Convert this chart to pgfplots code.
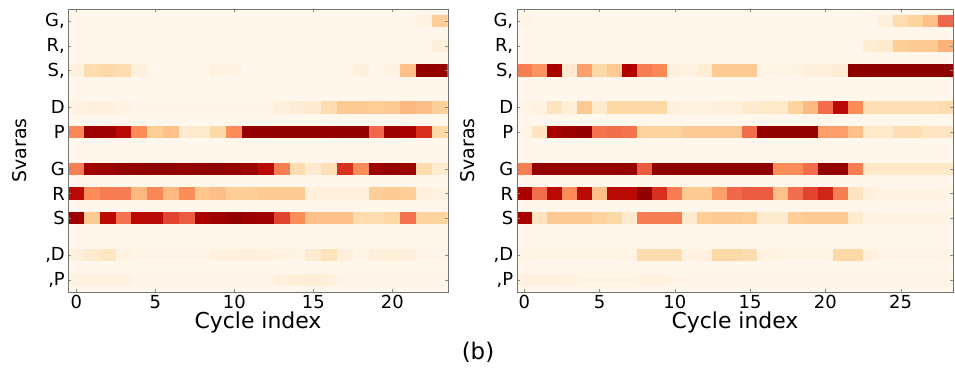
\documentclass[border=0pt]{standalone}
\usepackage{pgfplots}
\usepackage{pgfplotstable}
\pgfplotsset{compat=1.18}
\usepackage{fontspec}
\setmainfont{DejaVu Sans}
\definecolor{bg}{RGB}{255,247,236}
\pgfplotsset{colormap={OrRd}{rgb255=(255,247,236) rgb255=(254,232,200) rgb255=(253,212,158) rgb255=(253,187,132) rgb255=(252,141,89) rgb255=(239,101,72) rgb255=(215,48,31) rgb255=(179,0,0) rgb255=(127,0,0)}}
\pgfdeclareplotmark{cellL}{\pgfpathrectangle{\pgfpoint{-8.0bp}{-6.15bp}}{\pgfpoint{16.0bp}{12.3bp}}\pgfusepathqfill}
\pgfdeclareplotmark{cellR}{\pgfpathrectangle{\pgfpoint{-7.65bp}{-6.15bp}}{\pgfpoint{15.3bp}{12.3bp}}\pgfusepathqfill}

\pgfplotstableread{
x  GG   RR   SS   D    P    G    R    S    lD   lP
0  0    0    0.05 0.04 0.52 0.55 0.85 0.92 0.06 0.04
1  0    0    0.20 0.05 0.93 0.92 0.50 0.30 0.10 0.04
2  0    0    0.22 0.05 0.92 0.93 0.55 0.85 0.14 0.04
3  0    0    0.20 0.03 0.85 0.95 0.55 0.58 0.04 0.04
4  0    0    0.05 0.01 0.50 0.96 0.38 0.85 0.02 0.02
5  0    0    0    0.01 0.28 0.96 0.52 0.85 0.02 0.02
6  0    0    0    0.01 0.35 0.96 0.38 0.70 0.02 0.02
7  0    0    0    0.01 0.10 0.95 0.50 0.65 0.02 0.02
8  0    0    0    0.01 0.10 0.96 0.32 0.90 0.02 0.02
9  0    0    0.04 0.01 0.22 0.96 0.36 0.92 0.05 0.02
10 0    0    0.03 0.01 0.50 0.95 0.28 0.96 0.05 0.02
11 0    0    0    0.01 0.95 0.93 0.28 0.93 0.06 0.02
12 0    0    0    0.01 0.95 0.85 0.30 0.92 0.05 0.02
13 0    0    0    0.06 0.96 0.55 0.30 0.70 0.04 0.05
14 0    0    0    0.08 0.96 0.20 0.30 0.50 0.03 0.07
15 0    0    0    0.10 0.96 0.10 0.06 0.35 0.10 0.08
16 0    0    0    0.20 0.95 0.18 0.05 0.35 0.16 0.06
17 0    0    0    0.30 0.95 0.75 0.05 0.35 0.06 0.02
18 0    0    0.05 0.30 0.95 0.50 0.06 0.20 0.02 0.02
19 0    0    0    0.28 0.62 0.93 0.28 0.20 0.06 0.02
20 0    0    0.03 0.30 0.93 0.95 0.30 0.22 0.07 0.02
21 0    0    0.35 0.38 0.90 0.93 0.28 0.58 0.06 0.02
22 0.03 0    0.95 0.36 0.75 0.20 0.05 0.25 0.02 0.02
23 0.28 0.07 0.95 0.27 0.22 0.10 0.04 0.25 0.02 0.02
}\leftdata

\pgfplotstableread{
x  GG   RR   SS   D    P    G    R    S    lD   lP
0  0.02 0    0.55 0.02 0.02 0.55 0.90 0.90 0.03 0.05
1  0    0    0.48 0.04 0.15 0.95 0.60 0.15 0.03 0.05
2  0    0    0.90 0.15 0.90 0.95 0.85 0.30 0.03 0.05
3  0    0    0.10 0.07 0.93 0.95 0.50 0.30 0.03 0.04
4  0    0    0.45 0.30 0.95 0.95 0.85 0.30 0.03 0.03
5  0    0    0.22 0.10 0.58 0.95 0.35 0.25 0.03 0.03
6  0    0    0.30 0.22 0.60 0.95 0.85 0.22 0.03 0.03
7  0    0    0.88 0.22 0.58 0.95 0.85 0.10 0.03 0.03
8  0    0    0.55 0.22 0.25 0.65 0.95 0.55 0.20 0.04
9  0    0    0.52 0.22 0.25 0.97 0.75 0.55 0.20 0.04
10 0    0    0.05 0.05 0.25 0.97 0.55 0.55 0.20 0.03
11 0    0    0.04 0.04 0.30 0.97 0.30 0.10 0.04 0.02
12 0    0    0.08 0.04 0.30 0.97 0.30 0.28 0.05 0.02
13 0    0    0.30 0.05 0.30 0.97 0.45 0.30 0.22 0.02
14 0    0    0.30 0.06 0.30 0.97 0.62 0.30 0.22 0.02
15 0    0    0.30 0.10 0.60 0.97 0.65 0.28 0.20 0.02
16 0    0    0.02 0.12 0.95 0.97 0.65 0.10 0.04 0.02
17 0    0    0.02 0.12 0.96 0.50 0.35 0.10 0.03 0.02
18 0    0    0.03 0.25 0.96 0.50 0.60 0.28 0.03 0.02
19 0    0    0.06 0.38 0.95 0.60 0.70 0.30 0.03 0.02
20 0    0    0.06 0.60 0.45 0.95 0.78 0.30 0.03 0.02
21 0    0    0.08 0.85 0.45 0.95 0.55 0.30 0.22 0.02
22 0    0    0.97 0.50 0.35 0.55 0.15 0.10 0.22 0.02
23 0    0.08 0.97 0.18 0.12 0.12 0.05 0.04 0.05 0.02
24 0.06 0.10 0.97 0.18 0.12 0.12 0.03 0.03 0.02 0.02
25 0.20 0.28 0.97 0.18 0.18 0.12 0.03 0.03 0.02 0.02
26 0.25 0.30 0.97 0.18 0.18 0.12 0.03 0.03 0.02 0.02
27 0.35 0.30 0.97 0.18 0.14 0.12 0.03 0.03 0.02 0.02
28 0.62 0.40 0.97 0.20 0.14 0.12 0.03 0.03 0.02 0.02
}\rightdata

\pgfplotsset{
  svaraaxis/.style={
    anchor=south west, scale only axis, height=283bp,
    ymin=-6, ymax=17,
    axis background/.style={fill=bg},
    point meta min=0, point meta max=1,
    ytick={-5,-3,0,2,4,7,9,12,14,16},
    yticklabels={{,P},{,D},S,R,G,P,D,{S,},{R,},{G,}},
    tick align=inside, major tick length=3bp,
    tick style={black!45},
    axis line style={black!55},
    ticklabel style={font=\fontsize{18}{18}\selectfont},
    /pgf/number format/assume math mode=true,
    xlabel={Cycle index}, ylabel={Svaras},
    xlabel style={font=\fontsize{22}{22}\selectfont, yshift=4bp},
    ylabel style={font=\fontsize{19}{19}\selectfont, yshift=12bp},
    axis on top, clip marker paths=true,
  },
  cells/.style={scatter, only marks, mark=#1, point meta=explicit,
    scatter/use mapped color={draw=none, fill=mapped color}},
}

\begin{document}
\begin{tikzpicture}
\useasboundingbox (0,0) rectangle (955bp,372bp);
\begin{axis}[svaraaxis, at={(68.3bp,80bp)}, width=379.4bp,
  xmin=-0.5, xmax=23.5, xtick={0,5,10,15,20}]
\addplot[cells=cellL] table[x=x, y expr=16, meta=GG] {\leftdata};
\addplot[cells=cellL] table[x=x, y expr=14, meta=RR] {\leftdata};
\addplot[cells=cellL] table[x=x, y expr=12, meta=SS] {\leftdata};
\addplot[cells=cellL] table[x=x, y expr=9, meta=D] {\leftdata};
\addplot[cells=cellL] table[x=x, y expr=7, meta=P] {\leftdata};
\addplot[cells=cellL] table[x=x, y expr=4, meta=G] {\leftdata};
\addplot[cells=cellL] table[x=x, y expr=2, meta=R] {\leftdata};
\addplot[cells=cellL] table[x=x, y expr=0, meta=S] {\leftdata};
\addplot[cells=cellL] table[x=x, y expr=-3, meta=lD] {\leftdata};
\addplot[cells=cellL] table[x=x, y expr=-5, meta=lP] {\leftdata};
\end{axis}
\begin{axis}[svaraaxis, at={(516.7bp,80bp)}, width=436.6bp,
  xmin=-0.5, xmax=28.5, xtick={0,5,10,15,20,25}]
\addplot[cells=cellR] table[x=x, y expr=16, meta=GG] {\rightdata};
\addplot[cells=cellR] table[x=x, y expr=14, meta=RR] {\rightdata};
\addplot[cells=cellR] table[x=x, y expr=12, meta=SS] {\rightdata};
\addplot[cells=cellR] table[x=x, y expr=9, meta=D] {\rightdata};
\addplot[cells=cellR] table[x=x, y expr=7, meta=P] {\rightdata};
\addplot[cells=cellR] table[x=x, y expr=4, meta=G] {\rightdata};
\addplot[cells=cellR] table[x=x, y expr=2, meta=R] {\rightdata};
\addplot[cells=cellR] table[x=x, y expr=0, meta=S] {\rightdata};
\addplot[cells=cellR] table[x=x, y expr=-3, meta=lD] {\rightdata};
\addplot[cells=cellR] table[x=x, y expr=-5, meta=lP] {\rightdata};
\end{axis}
\node[font=\fontsize{23}{23}\selectfont] at (478bp,20bp) {(b)};
\end{tikzpicture}
\end{document}
